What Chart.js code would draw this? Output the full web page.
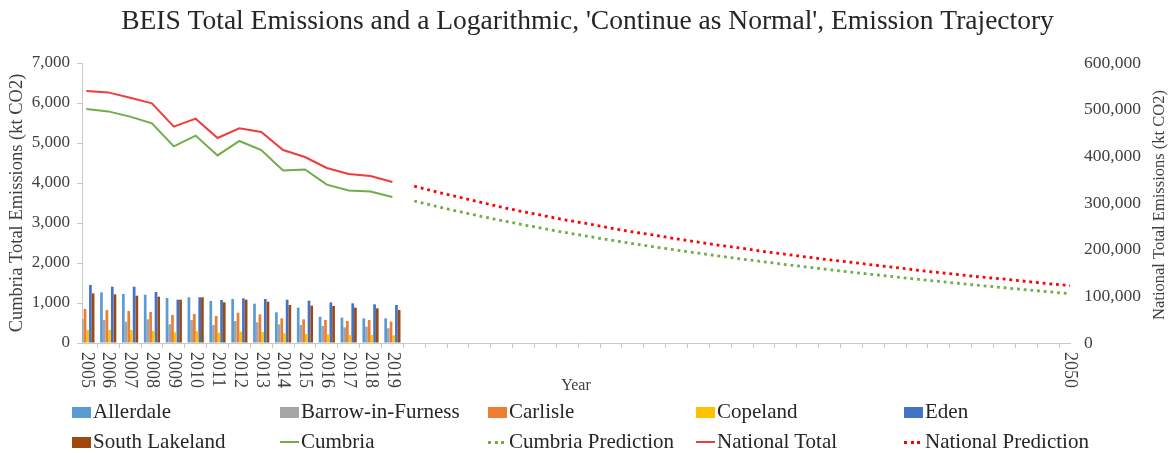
<!DOCTYPE html>
<html>
<head>
<meta charset="utf-8">
<script src="https://cdn.jsdelivr.net/npm/chart.js@4/dist/chart.umd.min.js"></script>
<style>
html,body{margin:0;padding:0;background:#fff;}
#wrap{position:relative;width:1175px;height:453px;overflow:hidden;}
#c{position:absolute;left:0;top:0;}
.lg{position:absolute;font-family:"Liberation Serif","Times New Roman",serif;font-size:21px;color:#262626;white-space:nowrap;line-height:24px;height:24px;}
.mk{display:inline-block;vertical-align:middle;margin-right:2px;position:relative;top:-1px;}
</style>
</head>
<body>
<div id="wrap">
<canvas id="c" width="1175" height="453"></canvas>
<div id="legend"></div>
</div>
<script>
// ---- data ----
const histYears = [2005,2006,2007,2008,2009,2010,2011,2012,2013,2014,2015,2016,2017,2018,2019];
const predYears = [2020,2021,2022,2023,2024,2025,2026,2027,2028,2029,2030,2031,2032,2033,2034,2035,2036,2037,2038,2039,2040,2041,2042,2043,2044,2045,2046,2047,2048,2049,2050];
const labelYears = [2005,2006,2007,2008,2009,2010,2011,2012,2013,2014,2015,2016,2017,2018,2019,2050];

const allerdale     = [1300,1267,1225,1208,1125,1142,1050,1100,983,767,883,658,633,617,617];
const barrow        = [600,575,533,592,467,575,450,550,517,467,450,425,392,408,367];
const carlisle      = [850,825,800,775,700,725,675,758,717,617,592,575,550,575,533];
const copeland      = [325,325,325,300,267,300,258,283,275,242,225,217,200,200,192];
const eden          = [1450,1408,1408,1275,1083,1142,1075,1117,1100,1083,1058,1017,992,967,950];
const southLakeland = [1240,1217,1183,1158,1083,1142,1017,1083,1033,950,933,925,883,867,825];
const cumbria       = [5850,5790,5660,5490,4915,5185,4690,5050,4825,4310,4340,3960,3815,3785,3650];
const national      = [540000,537000,525700,513600,463600,480700,439300,460000,452100,413600,398600,375000,362100,357900,345000];
const cumbriaPred   = [3550,3417,3292,3173,3061,2953,2851,2754,2660,2571,2485,2402,2322,2245,2171,2099,2029,1962,1896,1833,1771,1711,1652,1595,1540,1485,1433,1381,1331,1281,1233];
const nationalPred  = [336000,324000,313000,302000,291000,281000,272000,263000,255000,246000,238000,231000,223000,216000,209000,203000,196000,190000,184000,178000,173000,167000,162000,156000,151000,146000,141000,137000,132000,127000,123000];

const leftTicks  = [0,1000,2000,3000,4000,5000,6000,7000];
const rightTicks = [0,100000,200000,300000,400000,500000,600000];

const TITLE = "BEIS Total Emissions and a Logarithmic, 'Continue as Normal', Emission Trajectory";
const LEFT_TITLE = "Cumbria Total Emissions (kt CO2)";
const RIGHT_TITLE = "National Total Emissions (kt CO2)";
const X_TITLE = "Year";

// ---- styles ----
const FAMILY = '"Liberation Serif", "Times New Roman", serif';
const C = {
  allerdale:'#5B9BD5', barrow:'#A5A5A5', carlisle:'#ED7D31', copeland:'#FFC000',
  eden:'#4472C4', sl:'#9E480E', green:'#70AD47', red:'#FF0000', redLine:'#F03C3C'
};
const fmt = v => String(v).replace(/\B(?=(\d{3})+(?!\d))/g, ',');
const pts = (xs, ys) => xs.map((x, i) => ({x: x, y: ys[i]}));
const allYears = histYears.concat(predYears);

const bar = (label, data, color) => ({
  type:'bar', label, data: pts(histYears, data), backgroundColor: color,
  yAxisID:'y', barPercentage:1, categoryPercentage:0.74, order:2
});
const line = (label, xs, data, color, axis, dashed) => ({
  type:'line', label, data: pts(xs, data), borderColor: color, backgroundColor: color,
  borderWidth: dashed ? 2.8 : 2, borderDash: dashed ? [2.8, 3.9] : [], pointRadius:0,
  tension:0, fill:false, yAxisID: axis, order:1
});

const customText = {
  id:'customText',
  afterDraw(chart){
    const {ctx, chartArea} = chart;
    const x = chart.scales.x;
    ctx.save();
    ctx.fillStyle = '#404040';
    ctx.font = '18px ' + FAMILY;
    ctx.textAlign = 'left';
    ctx.textBaseline = 'middle';
    labelYears.forEach(yr => {
      const px = x.getPixelForValue(yr);
      ctx.save();
      ctx.translate(px, chartArea.bottom + 9);
      ctx.rotate(Math.PI / 2);
      ctx.fillText(String(yr), 0, 0);
      ctx.restore();
    });
    ctx.font = '16.5px ' + FAMILY;
    ctx.textAlign = 'center';
    ctx.save();
    ctx.translate(1160, (chartArea.top + chartArea.bottom) / 2 + 2);
    ctx.rotate(-Math.PI / 2);
    ctx.fillText(RIGHT_TITLE, 0, 0);
    ctx.restore();
    ctx.restore();
  }
};

new Chart(document.getElementById('c'), {
  data: {
    datasets: [
      bar('Allerdale', allerdale, C.allerdale),
      bar('Barrow-in-Furness', barrow, C.barrow),
      bar('Carlisle', carlisle, C.carlisle),
      bar('Copeland', copeland, C.copeland),
      bar('Eden', eden, C.eden),
      bar('South Lakeland', southLakeland, C.sl),
      line('Cumbria', histYears, cumbria, C.green, 'y', false),
      line('Cumbria Prediction', predYears, cumbriaPred, C.green, 'y', true),
      line('National Total', histYears, national, C.redLine, 'y1', false),
      line('National Prediction', predYears, nationalPred, C.red, 'y1', true)
    ]
  },
  options: {
    responsive:false, animation:false,
    layout:{padding:{left:0, right:0, top:0, bottom:58}},
    plugins:{
      legend:{display:false}, tooltip:{enabled:false},
      title:{display:true, text:TITLE, color:'#262626',
        font:{family:FAMILY, size:27.5, weight:'normal'}, padding:{top:5.5, bottom:24.5}}
    },
    scales:{
      x:{
        type:'linear', min:2004.8, max:2050, offset:false,
        afterBuildTicks: s => { s.ticks = allYears.map(v => ({value:v})); },
        ticks:{display:false},
        grid:{display:true, drawOnChartArea:false, drawTicks:true, tickLength:5, color:'#C8C8C8'},
        border:{display:true, color:'#C8C8C8'},
        title:{display:true, text:X_TITLE, color:'#404040', font:{family:FAMILY, size:16}, padding:0},
        afterFit: s => { s.height = 52; }
      },
      y:{
        type:'linear', position:'left', min:0, max:7000,
        afterBuildTicks: s => { s.ticks = leftTicks.map(v => ({value:v})); },
        ticks:{callback: v => fmt(v), color:'#404040', font:{family:FAMILY, size:17}, padding:7},
        grid:{display:true, drawOnChartArea:false, drawTicks:true, tickLength:5, color:'#C8C8C8'},
        border:{display:true, color:'#C8C8C8'},
        title:{display:true, text:LEFT_TITLE, color:'#404040', font:{family:FAMILY, size:18.5}, padding:{top:6, bottom:0}},
        afterFit: s => { s.width = 82; }
      },
      y1:{
        type:'linear', position:'right', min:0, max:600000,
        afterBuildTicks: s => { s.ticks = rightTicks.map(v => ({value:v})); },
        ticks:{callback: v => fmt(v), color:'#404040', font:{family:FAMILY, size:17.5}, padding:14},
        grid:{display:false, drawOnChartArea:false, drawTicks:false},
        border:{display:false},
        afterFit: s => { s.width = 105; }
      }
    }
  },
  plugins:[customText]
});

// ---- HTML legend ----
const legendItems = [
  {t:'Allerdale', k:'box', c:C.allerdale}, {t:'Barrow-in-Furness', k:'box', c:C.barrow},
  {t:'Carlisle', k:'box', c:C.carlisle}, {t:'Copeland', k:'box', c:C.copeland},
  {t:'Eden', k:'box', c:C.eden},
  {t:'South Lakeland', k:'box', c:C.sl}, {t:'Cumbria', k:'line', c:C.green},
  {t:'Cumbria Prediction', k:'dot', c:C.green}, {t:'National Total', k:'line', c:C.redLine},
  {t:'National Prediction', k:'dot', c:C.red}
];
const cols = [72, 280, 488, 696, 904];
const rows = [411, 441];
const lg = document.getElementById('legend');
legendItems.forEach((it, i) => {
  const d = document.createElement('div');
  d.className = 'lg';
  d.style.left = cols[i % 5] + 'px';
  d.style.top = (rows[Math.floor(i / 5)] - 12) + 'px';
  const m = document.createElement('span');
  m.className = 'mk';
  m.style.width = '19px';
  if (it.k === 'box') { m.style.height = '11px'; m.style.background = it.c; }
  else if (it.k === 'line') { m.style.height = '2px'; m.style.background = it.c; }
  else { m.style.height = '3px'; m.style.background = 'repeating-linear-gradient(to right,' + it.c + ' 0 3px, transparent 3px 6.6px)'; }
  d.appendChild(m);
  d.appendChild(document.createTextNode(it.t));
  lg.appendChild(d);
});
</script>
</body>
</html>
